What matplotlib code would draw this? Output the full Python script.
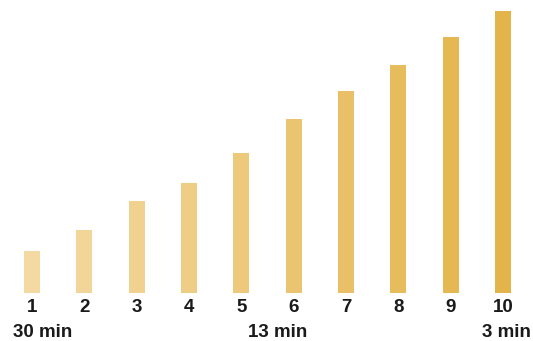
import numpy as np
import matplotlib
matplotlib.use("Agg")
import matplotlib.pyplot as plt
from matplotlib.colors import LinearSegmentedColormap

# rank of each bar and its height
ranks = [1, 2, 3, 4, 5, 6, 7, 8, 9, 10]
heights = [41.7, 62.7, 91.7, 109.7, 139.7, 173.7, 201.7, 227.7, 255.7, 281.7]
rank_labels = [str(r) for r in ranks]

# time annotations under the axis
time_labels = ["30 min", "13 min", "3 min"]
time_pos = [1.21, 5.69, 10.06]

plt.rcParams['font.family'] = ['Liberation Sans', 'DejaVu Sans']

fig = plt.figure(figsize=(5.33, 3.41), dpi=100)
ax = fig.add_axes([0, 48.3 / 341, 1, 292.7 / 341])

cmap = LinearSegmentedColormap.from_list("gold", ["#f4d9a2", "#e3b44a"])
colors = [cmap(i / (len(ranks) - 1)) for i in range(len(ranks))]

ax.bar(ranks, heights, width=16 / 52.33, color=colors)

ax.set_xlim(0.3885, 10.573)
ax.set_ylim(0, 292.7)
ax.set_xticks(ranks)
ax.set_xticklabels(rank_labels, fontsize=13.5, fontweight='bold', color='#1a1a1a')
ax.tick_params(axis='x', length=0, pad=4.5)
ax.set_yticks([])
for s in ax.spines.values():
    s.set_visible(False)

for lab, x in zip(time_labels, time_pos):
    ax.text(x, -44, lab, ha='center', va='baseline', fontsize=13.5,
            fontweight='bold', color='#1a1a1a', clip_on=False)

fig.savefig("out.png", dpi=100)
